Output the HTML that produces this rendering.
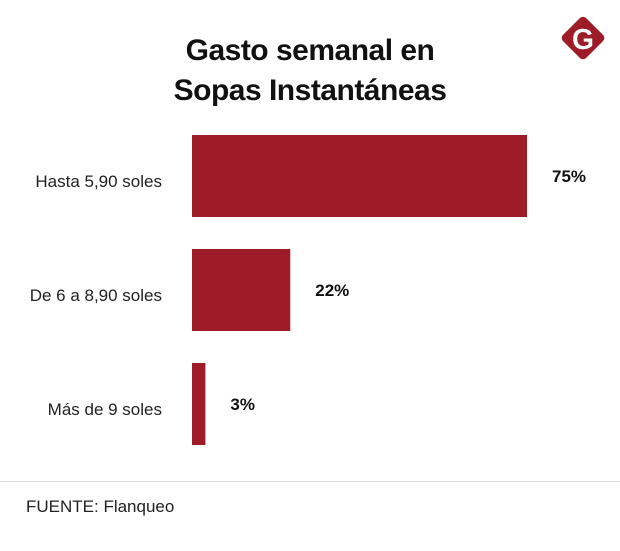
<!DOCTYPE html>
<html><head><meta charset="utf-8"><style>
body{margin:0;width:620px;height:551px;background:#fff;font-family:"Liberation Sans",sans-serif;overflow:hidden;position:relative}
.t{position:absolute;left:0;width:620px;text-align:center;font-weight:bold;font-size:30px;color:#111;letter-spacing:-0.5px}
</style></head><body>
<div class="t" style="top:31px;line-height:40px">Gasto semanal en<br>Sopas Instantáneas</div>
<svg style="position:absolute;left:558px;top:13px" width="50" height="50" viewBox="0 0 46 46">
<rect x="8" y="8" width="30" height="30" rx="4" fill="#9e1c28" transform="rotate(45 23 23)"/>
<text x="23" y="33" text-anchor="middle" font-family="Liberation Sans" font-weight="bold" font-size="26" fill="#fff">G</text></svg>
<svg id="c" style="position:absolute;left:0;top:0" width="620" height="551"></svg>
<div style="position:absolute;left:0;top:481px;width:620px;height:1px;background:#ddd"></div>
<div style="position:absolute;left:26px;top:497px;font-size:17px;color:#222">FUENTE: Flanqueo</div>
<script>
const categories=["Hasta 5,90 soles","De 6 a 8,90 soles","Más de 9 soles"];
const values=[75,22,3];
const labels=["75%","22%","3%"];
const svg=document.getElementById('c');const NS='http://www.w3.org/2000/svg';
const x0=192,scale=335/75;
const xs=v=>v*scale;
const ys=i=>135+i*114;
categories.forEach((c,i)=>{
 const r=document.createElementNS(NS,'rect');
 r.setAttribute('x',x0);r.setAttribute('y',ys(i));r.setAttribute('width',xs(values[i]));r.setAttribute('height',82);r.setAttribute('fill','#9e1c28');
 
 
 svg.appendChild(r);
 const t=document.createElementNS(NS,'text');
 t.setAttribute('x',162);t.setAttribute('y',ys(i)+52);t.setAttribute('text-anchor','end');t.setAttribute('font-size','17');t.setAttribute('fill','#222');t.textContent=c;
 
 
 svg.appendChild(t);
 const v=document.createElementNS(NS,'text');
 v.setAttribute('x',x0+xs(values[i])+25);v.setAttribute('y',ys(i)+47);v.setAttribute('font-size','17');v.setAttribute('font-weight','bold');v.setAttribute('fill','#111');v.textContent=labels[i];
 
 
 svg.appendChild(v);
});
</script>
</body></html>
